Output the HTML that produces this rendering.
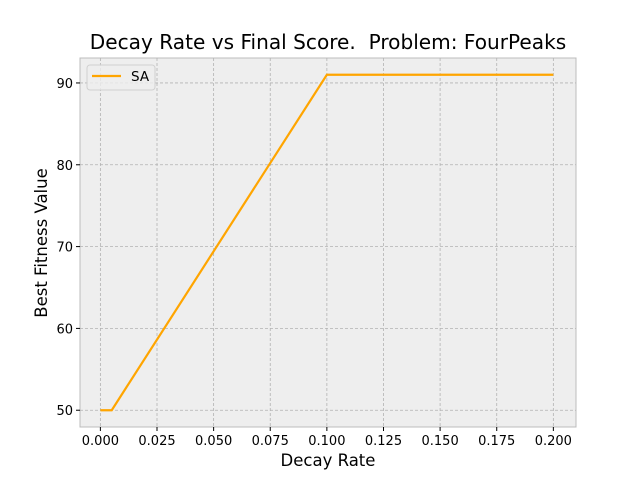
<!DOCTYPE html>
<html><head><meta charset="utf-8"><style>
body{margin:0;background:#fff;}
svg{font-family:"DejaVu Sans","Liberation Sans",sans-serif;}
</style></head><body>
<svg id="chart" width="640" height="480" xmlns="http://www.w3.org/2000/svg">
<rect x="0" y="0" width="640" height="480" fill="#fff"/>
<rect x="80" y="58" width="496" height="369" fill="#eeeeee" stroke="#bcbcbc" stroke-width="1"/>
<g id="grid"></g><g id="ticks"></g><g id="series"></g>
<text x="328" y="49" text-anchor="middle" font-size="20.1" style="white-space:pre">Decay Rate vs Final Score.  Problem: FourPeaks</text>
<text x="328" y="466" text-anchor="middle" font-size="16.5">Decay Rate</text>
<text transform="translate(47,243) rotate(-90)" text-anchor="middle" font-size="16.5">Best Fitness Value</text>
<g>
<rect x="87" y="65" width="68" height="25" rx="3" fill="#eeeeee" fill-opacity="0.8" stroke="#d0d0d0"/>
<line x1="92" y1="76" x2="121" y2="76" stroke="#ffa500" stroke-width="2.2"/>
<text x="131" y="81" font-size="13.5">SA</text>
</g>
</svg>
<script>
const decayRates=[0.0,0.005,0.1,0.2];
const scores=[50,50,91,91];
const xTicks=[0,0.025,0.05,0.075,0.1,0.125,0.15,0.175,0.2];
const xTickLabels=["0.000","0.025","0.050","0.075","0.100","0.125","0.150","0.175","0.200"];
const yTicks=[50,60,70,80,90];
const NS="http://www.w3.org/2000/svg";
const L=80,R=576,T=58,B=427,x0=-0.009,x1=0.21,y0=47.95,y1=93.05;
const sx=v=>L+(v-x0)/(x1-x0)*(R-L);
const sy=v=>B-(v-y0)/(y1-y0)*(B-T);
function mk(tag,attrs,parent){const e=document.createElementNS(NS,tag);for(const k in attrs)e.setAttribute(k,attrs[k]);document.getElementById(parent).appendChild(e);return e;}
xTicks.forEach((t,i)=>{
 const g=mk('line',{x1:sx(t),x2:sx(t),y1:T,y2:B,stroke:'#b2b2b2','stroke-width':0.8,'stroke-dasharray':'3,2'},'grid');
 
 
 const tk=mk('line',{x1:sx(t),x2:sx(t),y1:B,y2:B+4,stroke:'#000'},'ticks');
 
 
 const tx=mk('text',{x:sx(t),y:B+18,'text-anchor':'middle','font-size':13},'ticks');
 tx.textContent=xTickLabels[i];
 
 
});
yTicks.forEach(t=>{
 const g=mk('line',{x1:L,x2:R,y1:sy(t),y2:sy(t),stroke:'#b2b2b2','stroke-width':0.8,'stroke-dasharray':'3,2'},'grid');
 
 
 const tk=mk('line',{x1:L-4,x2:L,y1:sy(t),y2:sy(t),stroke:'#000'},'ticks');
 
 
 const tx=mk('text',{x:L-7,y:sy(t)+5,'text-anchor':'end','font-size':13},'ticks');
 tx.textContent=String(t);
 
 
});
const pts=decayRates.map((d,i)=>sx(d)+','+sy(scores[i])).join(' ');
const pl=mk('polyline',{points:pts,fill:'none',stroke:'#ffa500','stroke-width':2.2},'series');


</script>
</body></html>
